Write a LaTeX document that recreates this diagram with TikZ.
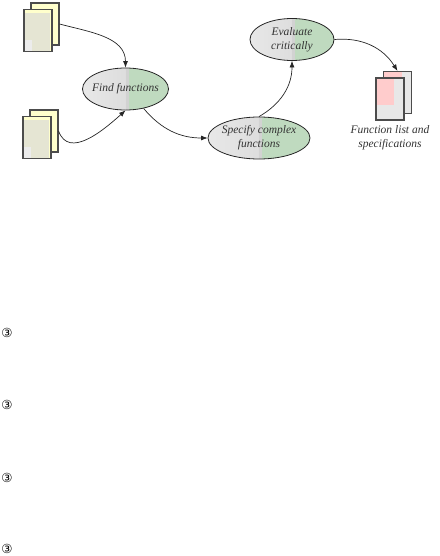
\documentclass[tikz,border=0pt]{standalone}
\usepackage{fontspec}
\setmainfont{Liberation Serif}
\newfontfamily\symbolfont{DejaVu Sans}
\usetikzlibrary{shapes.geometric,arrows.meta}
\definecolor{taskgreen}{HTML}{BFDABF}
\definecolor{pageyellow}{HTML}{FFFFCC}
\definecolor{pageolive}{HTML}{E5E5D3}
\definecolor{pagepink}{HTML}{FFCCCC}
\tikzset{
  task/.style={ellipse, draw=black!85, line width=0.8pt, minimum width=#1, minimum height=42pt, inner ysep=0pt, inner xsep=-4pt, align=center, text=black!80,
    font=\fontsize{11.5}{14}\selectfont\itshape,
    path picture={
      \shade[left color=gray!18, right color=gray!35] (path picture bounding box.south west) rectangle (path picture bounding box.north);
      \fill[gray!35] (path picture bounding box.south) rectangle ([xshift=3pt]path picture bounding box.north);
      \fill[taskgreen] ([xshift=3pt]path picture bounding box.south) rectangle (path picture bounding box.north east);
    }},
  page/.style={rectangle, draw=black!70, line width=1.1pt, minimum width=28pt, minimum height=42pt, inner sep=0pt},
  backpage/.style={page, fill=pageyellow},
  frontpage/.style={page, fill=pageyellow,
    path picture={
      \fill[pageolive] ([yshift=-4pt]path picture bounding box.north west) rectangle ([xshift=-2pt]path picture bounding box.south east);
      \fill[gray!15] (path picture bounding box.south west) rectangle ([shift={(8pt,11pt)}]path picture bounding box.south west);
    }},
  listback/.style={page, fill=gray!18,
    path picture={\fill[pagepink] (path picture bounding box.north west) rectangle ([shift={(18pt,-6pt)}]path picture bounding box.north west);}},
  listfront/.style={page, fill=gray!18,
    path picture={\fill[pagepink] (path picture bounding box.north west) rectangle ([shift={(18pt,-27pt)}]path picture bounding box.north west);}},
  flow/.style={-{Latex[length=6.5pt,width=5pt]}, black!85, line width=0.7pt},
  bulletsign/.style={inner sep=0pt, font=\symbolfont\fontsize{12.5}{13}\selectfont}
}
\begin{document}
\begin{tikzpicture}[x=1pt,y=-1pt]
  \useasboundingbox (0,0) rectangle (439,556);

  % Input documents
  \node[backpage] (topback) at (45,24) {};
  \node[frontpage] (topfront) at (38,30.5) {};
  \node[backpage] (lowback) at (44,131) {};
  \node[frontpage] (lowfront) at (37,137.5) {};

  % Tasks
  \node[task=86pt] (find) at (125.5,89) {Find functions};
  \node[task=102pt] (specify) at (259,138) {Specify complex\\functions};
  \node[task=84pt] (evaluate) at (292,39.5) {Evaluate\\critically};

  % Output documents
  \node[listback] (listb) at (397.5,92.5) {};
  \node[listfront] (listf) at (390,99) {};
  \node[font=\fontsize{11.5}{14}\selectfont\itshape, text=black!80, align=center, inner sep=0pt] (listlabel) at (390,138) {Function list and\\specifications};

  % Arrows between them
  \draw[flow] (topback.east) to[out=-15,in=90] (find.north);
  \draw[flow] (lowback.east) to[out=-70,in=222,looseness=1.1] (find.south);
  \draw[flow] (find.-47) to[out=-50,in=180] (specify.west);
  \draw[flow] (specify.north) to[out=30,in=-90] (evaluate.south);
  \draw[flow] (evaluate.east) to[out=5,in=122] (listb.north);

  % Bullets
  \foreach \i/\y in {1/333,2/405,3/478,4/549}
    \node[bulletsign] (bullet\i) at (7,\y) {③};
\end{tikzpicture}
\end{document}
